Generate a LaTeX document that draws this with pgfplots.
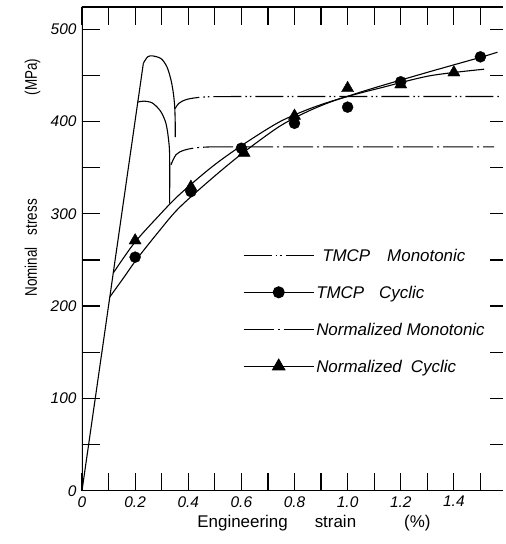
\documentclass[border=0pt]{standalone}
\usepackage{fontspec}
\setmainfont{Liberation Sans}
\usepackage{graphicx}
\usepackage{pgfplots}
\pgfplotsset{compat=1.18}
\begin{document}
\begin{tikzpicture}
\pgfplotsset{
  commonax/.style={scale only axis, width=421bp, height=483.7bp,
    xmin=0, xmax=1.585, ymin=0, ymax=524,
    axis line style={draw=none}, tick align=inside,
    tick style={black, line width=1.2bp}},
  tmcpmono/.style={black, line width=1.1bp, dash pattern=on 28bp off 4bp on 1.5bp off 3bp on 1.5bp off 4bp},
  normmono/.style={black, line width=1.1bp, dash pattern=on 30bp off 4bp on 2bp off 4bp},
  solidc/.style={black, line width=1.1bp},
}
\begin{axis}[commonax,
  ytick pos=left,
  xtick={0,0.1,0.2,0.3,0.4,0.5,0.6,0.7,0.8,0.9,1.0,1.1,1.2,1.3,1.4,1.5},
  xticklabels={0,,0.2,,0.4,,0.6,,0.8,,1.0,,1.2,,1.4,},
  ytick={0,50,100,150,200,250,300,350,400,450,500},
  yticklabels={0,,100,,200,,300,,400,,500},
  major tick length=18bp,
  ticklabel style={font=\fontsize{15.5}{18}\selectfont\itshape},
  xticklabel style={yshift=-2bp},
  yticklabel style={xshift=-2bp},
  xlabel={Engineering\hspace{27bp}strain\hspace{48bp}(\%)},
  ylabel={\scalebox{1}[1.25]{Nominal\hspace{12bp}stress\hspace{104bp}(MPa)}},
  xlabel style={font=\fontsize{17}{20}\selectfont, at={(axis description cs:0.551,-0.0771)}, anchor=base},
  ylabel style={font=\fontsize{13.5}{16}\selectfont, at={(axis description cs:-0.107,0.6475)}, anchor=base},
  legend image code/.code={\draw[mark repeat=2,mark phase=2,#1] plot coordinates {(0bp,0bp) (35bp,0bp) (70bp,0bp)};},
  legend style={at={(axis cs:0.606,264)}, anchor=north west, draw=none, fill=none,
    inner sep=0pt, row sep=20.8bp, font=\fontsize{17}{20}\selectfont\itshape,
    nodes={inner sep=2bp, text height=12.2bp, text depth=0bp},
    /tikz/every even column/.append style={column sep=5bp}},
  legend cell align=left,
]
% elastic line
\addplot[solidc, forget plot] coordinates {(0,0) (0.231,463)};
% TMCP monotonic: yield peak and drop
\addplot[solidc, smooth, tension=0.5, forget plot] coordinates {
(0.231,463) (0.247,470) (0.266,471) (0.298,468) (0.320,459) (0.335,445) (0.344,430.5) (0.349,416) (0.351,398) (0.351,383)};
% Normalized monotonic: yield peak and drop
\addplot[solidc, smooth, tension=0.5, forget plot] coordinates {
(0.21,421) (0.233,422) (0.265,420) (0.296,411) (0.316,398) (0.326,380) (0.33,362) (0.33,311)};
% TMCP monotonic plateau
\addplot[tmcpmono, smooth, tension=0.5, forget plot] coordinates {
(0.351,414) (0.365,419.7) (0.396,424) (0.46,426.5) (0.6,427) (1.576,427)};
% Normalized monotonic plateau
\addplot[normmono, smooth, tension=0.5, forget plot] coordinates {
(0.335,353) (0.354,364) (0.386,369) (0.45,372) (0.6,372.5) (1.552,372.5)};
% TMCP cyclic curve
\addplot[solidc, smooth, forget plot] coordinates {
(0.105,210) (0.16,232) (0.204,250) (0.284,279) (0.364,306) (0.49,338.5) (0.604,365.5) (0.74,394) (0.84,409.5) (0.93,420.5) (1.024,429.5) (1.119,438) (1.31,454) (1.502,469.6) (1.564,475)};
% Normalized cyclic curve
\addplot[solidc, smooth, forget plot] coordinates {
(0.118,236) (0.196,268) (0.28,295) (0.364,320) (0.49,351) (0.604,374.5) (0.74,399) (0.85,413) (0.94,422) (1.024,429) (1.119,436) (1.31,449.5) (1.514,456.6)};
% TMCP cyclic data
\addplot[only marks, mark=*, mark size=5.5bp, black, forget plot] coordinates {
(0.2,253) (0.41,324) (0.6,371) (0.8,398) (1.0,415.5) (1.2,443) (1.5,470)};
% Normalized cyclic data
\addplot[only marks, mark=triangle*, mark size=7bp, black, forget plot] coordinates {
(0.2,271) (0.41,329) (0.61,366) (0.8,406) (1.0,436) (1.2,440) (1.4,453)};
% legend
\addlegendimage{tmcpmono}
\addlegendentry{\hspace{6bp}TMCP\hspace{17bp}Monotonic}
\addlegendimage{solidc, mark=*, mark size=5.5bp, mark options={solid}}
\addlegendentry{TMCP\hspace{15bp}Cyclic}
\addlegendimage{normmono}
\addlegendentry{Normalized Monotonic}
\addlegendimage{solidc, mark=triangle*, mark size=7bp, mark options={solid}}
\addlegendentry{Normalized\hspace{9bp}Cyclic}
\draw[line width=1.5bp] (rel axis cs:1,1) -- (rel axis cs:0,1) -- (rel axis cs:0,0) -- (rel axis cs:1,0);
\coordinate (O) at (rel axis cs:0,0);
\end{axis}
\begin{axis}[commonax, ytick pos=right, xtick=\empty,
  ytick={0,50,100,150,200,250,300,350,400,450,500}, yticklabels={},
  major tick length=13bp]
\addplot[draw=none] coordinates {(0,0)};
\end{axis}
\pgfresetboundingbox
\path (O) ++(-82bp,-53.3bp) rectangle ++(506bp,544bp);
\end{tikzpicture}
\end{document}
